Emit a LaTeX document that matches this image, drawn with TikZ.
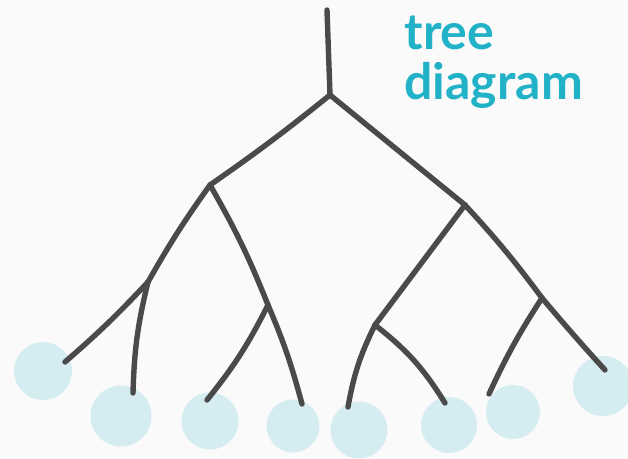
\documentclass[tikz,border=0pt]{standalone}
\usepackage{fontspec}
\setmainfont{Lato}
\definecolor{bg}{HTML}{FAFAFA}
\definecolor{branch}{HTML}{4A4A4A}
\definecolor{leaf}{HTML}{D5EDF1}
\definecolor{ink}{HTML}{22B2C7}
\tikzset{
  limb/.style={draw=branch, line width=2.7pt, line cap=round, line join=round},
  berry/.style={circle, fill=leaf, draw=none, inner sep=0pt},
  label/.style={text=ink, font=\fontsize{25}{25}\selectfont\bfseries, anchor=base west, inner sep=0pt}
}
\begin{document}
\begin{tikzpicture}[x=0.5pt,y=-0.5pt]
\fill[bg] (0,0) rectangle (628,459);
\useasboundingbox (0,0) rectangle (628,459);
% leaves
\node[berry, minimum size=29pt] (l1) at (43,371) {};
\node[berry, minimum size=30.5pt] (l2) at (121,416) {};
\node[berry, minimum size=28.5pt] (l3) at (210,421) {};
\node[berry, minimum size=26.5pt] (l4) at (293,426) {};
\node[berry, minimum size=28.5pt] (l5) at (359,430) {};
\node[berry, minimum size=28pt] (l6) at (449,425) {};
\node[berry, minimum size=27pt] (l7) at (513,412) {};
\node[berry, minimum size=30pt] (l8) at (603,386) {};
% branch points
\coordinate (top) at (327,10);
\coordinate (root) at (330,95);
\coordinate (a) at (210,185);
\coordinate (b) at (465,205);
\coordinate (aa) at (148,282);
\coordinate (ab) at (268,305);
\coordinate (ba) at (375,325);
\coordinate (bb) at (542,298);
% leaf ends
\coordinate (e1) at (65,362);
\coordinate (e2) at (133,393);
\coordinate (e3) at (207,400);
\coordinate (e4) at (302,404);
\coordinate (e5) at (348,407);
\coordinate (e6) at (445,403);
\coordinate (e7) at (489,394);
\coordinate (e8) at (605,370);
% branches
\draw[limb] (top) -- (root);
\draw[limb] (root) to[bend left=2] (a);
\draw[limb] (root) -- (b);
\draw[limb] (a) to[bend right=3] (aa);
\draw[limb] (a) to[bend left=4] (ab);
\draw[limb] (aa) to[bend left=3] (e1);
\draw[limb] (aa) to[bend right=6] (e2);
\draw[limb] (ab) to[bend left=6] (e3);
\draw[limb] (ab) to[bend left=4] (e4);
\draw[limb] (b) -- (ba);
\draw[limb] (b) to[bend left=3] (bb);
\draw[limb] (ba) to[bend right=8] (e5);
\draw[limb] (ba) to[bend left=10] (e6);
\draw[limb] (bb) to[bend right=4] (e7);
\draw[limb] (bb) to[bend right=1] (e8);
% title
\node[label] (title1) at (404,50) {tree};
\node[label] (title2) at (404,100) {diagram};
\end{tikzpicture}
\end{document}
